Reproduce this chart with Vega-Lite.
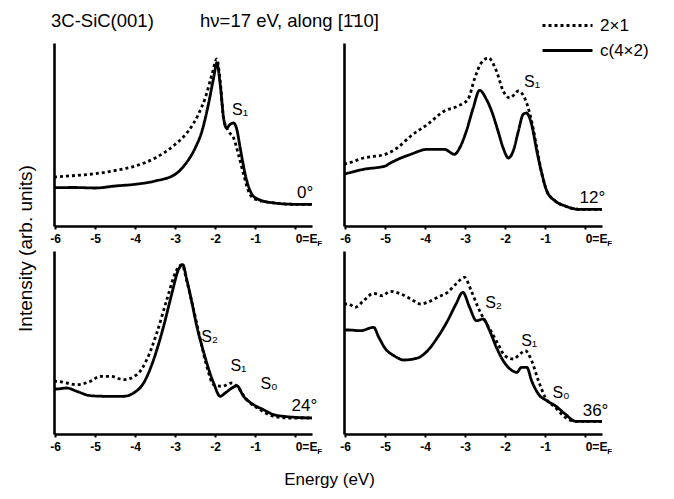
{
  "$schema": "https://vega.github.io/schema/vega-lite/v6.json",
  "padding": {"left": 16, "top": 11, "right": 5, "bottom": 5},
  "bounds": "flush",
  "columns": 2,
  "spacing": {"row": 25, "column": 32},
  "config": {
    "font": "Liberation Sans",
    "view": {"stroke": null},
    "axis": {"grid": false, "domainColor": "black", "tickColor": "black", "labelColor": "black", "titleColor": "black", "titleFont": "Liberation Sans", "labelFont": "Liberation Sans"},
    "axisX": {"domainWidth": 2.6, "tickWidth": 2, "tickSize": 3, "labelFontSize": 12, "labelFontWeight": "bold", "labelPadding": 4, "values": [-6, -5.5, -5, -4.5, -4, -3.5, -3, -2.5, -2, -1.5, -1, -0.5, 0], "labelExpr": "datum.value == 0 ? '0=E' : (datum.value % 1 == 0 ? '-' + abs(datum.value) : '')", "labelAlign": {"condition": {"test": "datum.value == 0", "value": "left"}, "value": "center"}, "labelOverlap": false, "labelFlush": false, "title": null},
    "axisY": {"domainWidth": 2.6, "ticks": false, "labels": false, "title": null},
    "legend": {"orient": "none", "legendX": 502, "legendY": -29, "title": null, "symbolType": "M-2.5,0H2.5", "symbolSize": 400, "symbolStrokeWidth": 2.8, "symbolStrokeColor": "black", "symbolFillColor": "transparent", "labelFontSize": 17, "labelFont": "Liberation Sans", "labelColor": "black", "labelOffset": 21, "rowPadding": 5, "padding": 0}
  },
  "datasets": {
    "spectra": [
      {"p":"a","s":"c(4×2)","E":-6.03,"I":38.3},{"p":"a","s":"c(4×2)","E":-5.5,"I":38.5},{"p":"a","s":"c(4×2)","E":-5,"I":38},{"p":"a","s":"c(4×2)","E":-4.5,"I":40},{"p":"a","s":"c(4×2)","E":-4,"I":41.7},{"p":"a","s":"c(4×2)","E":-3.5,"I":45},{"p":"a","s":"c(4×2)","E":-3,"I":51.7},{"p":"a","s":"c(4×2)","E":-2.75,"I":61.7},{"p":"a","s":"c(4×2)","E":-2.5,"I":78},{"p":"a","s":"c(4×2)","E":-2.33,"I":95},{"p":"a","s":"c(4×2)","E":-2.17,"I":121.7},{"p":"a","s":"c(4×2)","E":-2.04,"I":148},{"p":"a","s":"c(4×2)","E":-1.96,"I":163},{"p":"a","s":"c(4×2)","E":-1.875,"I":141.7},{"p":"a","s":"c(4×2)","E":-1.79,"I":108},{"p":"a","s":"c(4×2)","E":-1.72,"I":98},{"p":"a","s":"c(4×2)","E":-1.625,"I":101.7},{"p":"a","s":"c(4×2)","E":-1.54,"I":103},{"p":"a","s":"c(4×2)","E":-1.46,"I":96.7},{"p":"a","s":"c(4×2)","E":-1.375,"I":78},{"p":"a","s":"c(4×2)","E":-1.25,"I":51.7},{"p":"a","s":"c(4×2)","E":-1.125,"I":35},{"p":"a","s":"c(4×2)","E":-1,"I":28.3},{"p":"a","s":"c(4×2)","E":-0.58,"I":23.3},{"p":"a","s":"c(4×2)","E":0,"I":21.7},{"p":"a","s":"c(4×2)","E":0.42,"I":21.7},
      {"p":"a","s":"2×1","E":-6.03,"I":49},{"p":"a","s":"2×1","E":-5.5,"I":50.5},{"p":"a","s":"2×1","E":-5,"I":52.3},{"p":"a","s":"2×1","E":-4.5,"I":55.5},{"p":"a","s":"2×1","E":-4,"I":60},{"p":"a","s":"2×1","E":-3.5,"I":68},{"p":"a","s":"2×1","E":-3,"I":81.7},{"p":"a","s":"2×1","E":-2.67,"I":95},{"p":"a","s":"2×1","E":-2.42,"I":111.7},{"p":"a","s":"2×1","E":-2.25,"I":128},{"p":"a","s":"2×1","E":-2.08,"I":151.7},{"p":"a","s":"2×1","E":-1.96,"I":167},{"p":"a","s":"2×1","E":-1.875,"I":145},{"p":"a","s":"2×1","E":-1.79,"I":108},{"p":"a","s":"2×1","E":-1.67,"I":95},{"p":"a","s":"2×1","E":-1.54,"I":88},{"p":"a","s":"2×1","E":-1.42,"I":71.7},{"p":"a","s":"2×1","E":-1.29,"I":51.7},{"p":"a","s":"2×1","E":-1.17,"I":35},{"p":"a","s":"2×1","E":-1,"I":26.7},{"p":"a","s":"2×1","E":-0.58,"I":23.3},{"p":"a","s":"2×1","E":0,"I":21.7},{"p":"a","s":"2×1","E":0.42,"I":21.7},
      {"p":"b","s":"c(4×2)","E":-6.03,"I":52},{"p":"b","s":"c(4×2)","E":-5.92,"I":53},{"p":"b","s":"c(4×2)","E":-5.54,"I":56.7},{"p":"b","s":"c(4×2)","E":-5,"I":60},{"p":"b","s":"c(4×2)","E":-4.87,"I":63},{"p":"b","s":"c(4×2)","E":-4.36,"I":71.7},{"p":"b","s":"c(4×2)","E":-3.94,"I":76.7},{"p":"b","s":"c(4×2)","E":-3.52,"I":76.7},{"p":"b","s":"c(4×2)","E":-3.27,"I":71.7},{"p":"b","s":"c(4×2)","E":-3.14,"I":78},{"p":"b","s":"c(4×2)","E":-2.97,"I":95},{"p":"b","s":"c(4×2)","E":-2.8,"I":118},{"p":"b","s":"c(4×2)","E":-2.64,"I":135.7},{"p":"b","s":"c(4×2)","E":-2.47,"I":126.7},{"p":"b","s":"c(4×2)","E":-2.34,"I":115},{"p":"b","s":"c(4×2)","E":-2.18,"I":95},{"p":"b","s":"c(4×2)","E":-2.05,"I":78},{"p":"b","s":"c(4×2)","E":-1.92,"I":68},{"p":"b","s":"c(4×2)","E":-1.8,"I":75},{"p":"b","s":"c(4×2)","E":-1.67,"I":95},{"p":"b","s":"c(4×2)","E":-1.55,"I":111.7},{"p":"b","s":"c(4×2)","E":-1.47,"I":113},{"p":"b","s":"c(4×2)","E":-1.34,"I":101.7},{"p":"b","s":"c(4×2)","E":-1.21,"I":75},{"p":"b","s":"c(4×2)","E":-1.08,"I":51.7},{"p":"b","s":"c(4×2)","E":-0.96,"I":35},{"p":"b","s":"c(4×2)","E":-0.75,"I":25},{"p":"b","s":"c(4×2)","E":-0.5,"I":20},{"p":"b","s":"c(4×2)","E":-0.16,"I":16.7},{"p":"b","s":"c(4×2)","E":0.42,"I":16.7},
      {"p":"b","s":"2×1","E":-6.03,"I":62},{"p":"b","s":"2×1","E":-5.92,"I":63},{"p":"b","s":"2×1","E":-5.54,"I":68},{"p":"b","s":"2×1","E":-5,"I":71.7},{"p":"b","s":"2×1","E":-4.7,"I":78},{"p":"b","s":"2×1","E":-4.36,"I":90},{"p":"b","s":"2×1","E":-3.94,"I":101.7},{"p":"b","s":"2×1","E":-3.52,"I":115},{"p":"b","s":"2×1","E":-3.18,"I":120},{"p":"b","s":"2×1","E":-2.93,"I":126.7},{"p":"b","s":"2×1","E":-2.76,"I":148},{"p":"b","s":"2×1","E":-2.6,"I":163},{"p":"b","s":"2×1","E":-2.42,"I":168},{"p":"b","s":"2×1","E":-2.22,"I":155},{"p":"b","s":"2×1","E":-2.05,"I":135},{"p":"b","s":"2×1","E":-1.88,"I":128},{"p":"b","s":"2×1","E":-1.67,"I":135},{"p":"b","s":"2×1","E":-1.5,"I":126.7},{"p":"b","s":"2×1","E":-1.34,"I":105},{"p":"b","s":"2×1","E":-1.21,"I":78},{"p":"b","s":"2×1","E":-1.08,"I":51.7},{"p":"b","s":"2×1","E":-0.96,"I":35},{"p":"b","s":"2×1","E":-0.75,"I":25},{"p":"b","s":"2×1","E":-0.5,"I":20},{"p":"b","s":"2×1","E":-0.16,"I":16.7},{"p":"b","s":"2×1","E":0.42,"I":16.7},
      {"p":"c","s":"c(4×2)","E":-6.03,"I":45},{"p":"c","s":"c(4×2)","E":-5.96,"I":45},{"p":"c","s":"c(4×2)","E":-5.71,"I":46},{"p":"c","s":"c(4×2)","E":-5.46,"I":42.7},{"p":"c","s":"c(4×2)","E":-5.12,"I":38.3},{"p":"c","s":"c(4×2)","E":-4.71,"I":37.7},{"p":"c","s":"c(4×2)","E":-4.29,"I":37.7},{"p":"c","s":"c(4×2)","E":-4.04,"I":41},{"p":"c","s":"c(4×2)","E":-3.79,"I":51},{"p":"c","s":"c(4×2)","E":-3.54,"I":74.3},{"p":"c","s":"c(4×2)","E":-3.29,"I":107.7},{"p":"c","s":"c(4×2)","E":-3.08,"I":141},{"p":"c","s":"c(4×2)","E":-2.92,"I":164.3},{"p":"c","s":"c(4×2)","E":-2.81,"I":169.3},{"p":"c","s":"c(4×2)","E":-2.71,"I":154.3},{"p":"c","s":"c(4×2)","E":-2.58,"I":131},{"p":"c","s":"c(4×2)","E":-2.46,"I":107.7},{"p":"c","s":"c(4×2)","E":-2.33,"I":87.7},{"p":"c","s":"c(4×2)","E":-2.21,"I":71},{"p":"c","s":"c(4×2)","E":-2.04,"I":51},{"p":"c","s":"c(4×2)","E":-1.875,"I":37.7},{"p":"c","s":"c(4×2)","E":-1.75,"I":41},{"p":"c","s":"c(4×2)","E":-1.58,"I":46},{"p":"c","s":"c(4×2)","E":-1.46,"I":48.3},{"p":"c","s":"c(4×2)","E":-1.29,"I":37.7},{"p":"c","s":"c(4×2)","E":-1.04,"I":29.3},{"p":"c","s":"c(4×2)","E":-0.79,"I":24.3},{"p":"c","s":"c(4×2)","E":-0.54,"I":19.3},{"p":"c","s":"c(4×2)","E":-0.29,"I":17.7},{"p":"c","s":"c(4×2)","E":0.42,"I":16},
      {"p":"c","s":"2×1","E":-6.03,"I":52.7},{"p":"c","s":"2×1","E":-5.96,"I":52.7},{"p":"c","s":"2×1","E":-5.71,"I":51},{"p":"c","s":"2×1","E":-5.46,"I":49.3},{"p":"c","s":"2×1","E":-5.12,"I":52.7},{"p":"c","s":"2×1","E":-4.87,"I":57.7},{"p":"c","s":"2×1","E":-4.62,"I":57.7},{"p":"c","s":"2×1","E":-4.29,"I":54.3},{"p":"c","s":"2×1","E":-3.96,"I":59.3},{"p":"c","s":"2×1","E":-3.71,"I":74.3},{"p":"c","s":"2×1","E":-3.46,"I":101},{"p":"c","s":"2×1","E":-3.21,"I":134.3},{"p":"c","s":"2×1","E":-2.96,"I":164.3},{"p":"c","s":"2×1","E":-2.83,"I":169.3},{"p":"c","s":"2×1","E":-2.71,"I":152.7},{"p":"c","s":"2×1","E":-2.54,"I":124.3},{"p":"c","s":"2×1","E":-2.37,"I":94.3},{"p":"c","s":"2×1","E":-2.21,"I":67.7},{"p":"c","s":"2×1","E":-2.04,"I":49.3},{"p":"c","s":"2×1","E":-1.83,"I":47.7},{"p":"c","s":"2×1","E":-1.58,"I":51},{"p":"c","s":"2×1","E":-1.46,"I":47.7},{"p":"c","s":"2×1","E":-1.21,"I":34.3},{"p":"c","s":"2×1","E":-0.875,"I":24.3},{"p":"c","s":"2×1","E":-0.54,"I":17.7},{"p":"c","s":"2×1","E":-0.12,"I":16},{"p":"c","s":"2×1","E":0.42,"I":16},
      {"p":"d","s":"c(4×2)","E":-6.03,"I":104},{"p":"d","s":"c(4×2)","E":-5.92,"I":104},{"p":"d","s":"c(4×2)","E":-5.62,"I":103.3},{"p":"d","s":"c(4×2)","E":-5.29,"I":106.7},{"p":"d","s":"c(4×2)","E":-5.16,"I":96.7},{"p":"d","s":"c(4×2)","E":-4.99,"I":85},{"p":"d","s":"c(4×2)","E":-4.78,"I":78.3},{"p":"d","s":"c(4×2)","E":-4.53,"I":74},{"p":"d","s":"c(4×2)","E":-4.19,"I":76},{"p":"d","s":"c(4×2)","E":-3.94,"I":83.3},{"p":"d","s":"c(4×2)","E":-3.69,"I":96.7},{"p":"d","s":"c(4×2)","E":-3.44,"I":113.3},{"p":"d","s":"c(4×2)","E":-3.23,"I":130},{"p":"d","s":"c(4×2)","E":-3.06,"I":141.7},{"p":"d","s":"c(4×2)","E":-2.89,"I":126.7},{"p":"d","s":"c(4×2)","E":-2.72,"I":113.3},{"p":"d","s":"c(4×2)","E":-2.55,"I":115},{"p":"d","s":"c(4×2)","E":-2.39,"I":103.3},{"p":"d","s":"c(4×2)","E":-2.22,"I":86.7},{"p":"d","s":"c(4×2)","E":-2.05,"I":73.3},{"p":"d","s":"c(4×2)","E":-1.88,"I":65},{"p":"d","s":"c(4×2)","E":-1.71,"I":61.7},{"p":"d","s":"c(4×2)","E":-1.59,"I":66.7},{"p":"d","s":"c(4×2)","E":-1.46,"I":66.7},{"p":"d","s":"c(4×2)","E":-1.34,"I":53.3},{"p":"d","s":"c(4×2)","E":-1.17,"I":40},{"p":"d","s":"c(4×2)","E":-0.96,"I":33.3},{"p":"d","s":"c(4×2)","E":-0.75,"I":28.3},{"p":"d","s":"c(4×2)","E":-0.5,"I":20},{"p":"d","s":"c(4×2)","E":-0.24,"I":12.7},{"p":"d","s":"c(4×2)","E":0.42,"I":12.7},
      {"p":"d","s":"2×1","E":-6.03,"I":130},{"p":"d","s":"2×1","E":-5.92,"I":130},{"p":"d","s":"2×1","E":-5.75,"I":126.7},{"p":"d","s":"2×1","E":-5.54,"I":133.3},{"p":"d","s":"2×1","E":-5.29,"I":140.7},{"p":"d","s":"2×1","E":-5.08,"I":138.3},{"p":"d","s":"2×1","E":-4.87,"I":142.7},{"p":"d","s":"2×1","E":-4.61,"I":140},{"p":"d","s":"2×1","E":-4.36,"I":135},{"p":"d","s":"2×1","E":-4.11,"I":130},{"p":"d","s":"2×1","E":-3.94,"I":131.7},{"p":"d","s":"2×1","E":-3.69,"I":136.7},{"p":"d","s":"2×1","E":-3.44,"I":141.7},{"p":"d","s":"2×1","E":-3.23,"I":150},{"p":"d","s":"2×1","E":-3.02,"I":156.7},{"p":"d","s":"2×1","E":-2.85,"I":143.3},{"p":"d","s":"2×1","E":-2.68,"I":126.7},{"p":"d","s":"2×1","E":-2.51,"I":113.3},{"p":"d","s":"2×1","E":-2.34,"I":101.7},{"p":"d","s":"2×1","E":-2.18,"I":90},{"p":"d","s":"2×1","E":-2.01,"I":78.3},{"p":"d","s":"2×1","E":-1.8,"I":75},{"p":"d","s":"2×1","E":-1.63,"I":80},{"p":"d","s":"2×1","E":-1.5,"I":83.3},{"p":"d","s":"2×1","E":-1.34,"I":73.3},{"p":"d","s":"2×1","E":-1.17,"I":53.3},{"p":"d","s":"2×1","E":-1,"I":36.7},{"p":"d","s":"2×1","E":-0.75,"I":26.7},{"p":"d","s":"2×1","E":-0.5,"I":16.7},{"p":"d","s":"2×1","E":-0.24,"I":12.7},{"p":"d","s":"2×1","E":0.42,"I":12.7}
    ],
    "notes": [
      {"p":"a","k":"peak","E":-1.58,"I":111,"t":"S₁"},
      {"p":"a","k":"angle","E":0.45,"I":28,"t":"0°"},
      {"p":"b","k":"peak","E":-1.53,"I":139,"t":"S₁"},
      {"p":"b","k":"angle","E":0.5,"I":23.3,"t":"12°"},
      {"p":"c","k":"peak","E":-2.35,"I":92,"t":"S₂"},
      {"p":"c","k":"peak","E":-1.62,"I":62.7,"t":"S₁"},
      {"p":"c","k":"peak","E":-0.87,"I":45,"t":"S₀"},
      {"p":"c","k":"angle","E":0.55,"I":22.7,"t":"24°"},
      {"p":"d","k":"peak","E":-2.5,"I":126,"t":"S₂"},
      {"p":"d","k":"peak","E":-1.6,"I":87.7,"t":"S₁"},
      {"p":"d","k":"peak","E":-0.82,"I":36,"t":"S₀"},
      {"p":"d","k":"angle","E":0.58,"I":18.3,"t":"36°"}
    ]
  },
  "concat": [
    {
      "width": 258, "height": 183,
      "title": {"text": "3C-SiC(001)\u00a0\u00a0\u00a0\u00a0\u00a0\u00a0\u00a0\u00a0\u00a0hν=17 eV, along [1̄10]", "anchor": "start", "frame": "group", "fontSize": 18.5, "fontWeight": "normal", "font": "Liberation Sans", "color": "black", "baseline": "alphabetic", "offset": -2, "dx": -3},
      "layer": [
        {"data": {"name": "spectra"}, "transform": [{"filter": "datum.p == 'a'"}],
         "mark": {"type": "line", "interpolate": "monotone", "color": "black", "strokeWidth": 2.8},
         "encoding": {
           "x": {"field": "E", "type": "quantitative", "scale": {"domain": [-6.03, 0.42], "nice": false, "zero": false}},
           "y": {"field": "I", "type": "quantitative", "scale": {"domain": [0, 183], "nice": false}, "axis": {"title": "Intensity (arb. units)", "titleX": -29, "titleY": 205, "titleAngle": -90, "titleAlign": "center", "titleBaseline": "middle", "titleFontSize": 19, "titleFontWeight": "normal"}},
           "strokeDash": {"field": "s", "type": "nominal", "scale": {"domain": ["2×1", "c(4×2)"], "range": [[3, 3], [1, 0]]}}
         }},
        {"data": {"name": "notes"}, "transform": [{"filter": "datum.p == 'a' && datum.k == 'peak'"}],
         "mark": {"type": "text", "align": "left", "baseline": "alphabetic", "fontSize": 16, "color": "black"},
         "encoding": {"x": {"field": "E", "type": "quantitative"}, "y": {"field": "I", "type": "quantitative"}, "text": {"field": "t"}}},
        {"data": {"name": "notes"}, "transform": [{"filter": "datum.p == 'a' && datum.k == 'angle'"}],
         "mark": {"type": "text", "align": "right", "baseline": "alphabetic", "fontSize": 17, "color": "black"},
         "encoding": {"x": {"field": "E", "type": "quantitative"}, "y": {"field": "I", "type": "quantitative"}, "text": {"field": "t"}}},
        {"data": {"values": [{"E": 0, "I": 0}]},
         "mark": {"type": "text", "text": "F", "align": "left", "baseline": "top", "fontSize": 8, "fontWeight": "bold", "color": "black", "dx": 22, "dy": 14},
         "encoding": {"x": {"field": "E", "type": "quantitative"}, "y": {"field": "I", "type": "quantitative"}}}
      ]
    },
    {
      "width": 258, "height": 183,
      "layer": [
        {"data": {"name": "spectra"}, "transform": [{"filter": "datum.p == 'b'"}],
         "mark": {"type": "line", "interpolate": "monotone", "color": "black", "strokeWidth": 2.8},
         "encoding": {
           "x": {"field": "E", "type": "quantitative", "scale": {"domain": [-6.03, 0.42], "nice": false, "zero": false}},
           "y": {"field": "I", "type": "quantitative", "scale": {"domain": [0, 183], "nice": false}},
           "strokeDash": {"field": "s", "type": "nominal", "scale": {"domain": ["2×1", "c(4×2)"], "range": [[3, 3], [1, 0]]}}
         }},
        {"data": {"name": "notes"}, "transform": [{"filter": "datum.p == 'b' && datum.k == 'peak'"}],
         "mark": {"type": "text", "align": "left", "baseline": "alphabetic", "fontSize": 16, "color": "black"},
         "encoding": {"x": {"field": "E", "type": "quantitative"}, "y": {"field": "I", "type": "quantitative"}, "text": {"field": "t"}}},
        {"data": {"name": "notes"}, "transform": [{"filter": "datum.p == 'b' && datum.k == 'angle'"}],
         "mark": {"type": "text", "align": "right", "baseline": "alphabetic", "fontSize": 17, "color": "black"},
         "encoding": {"x": {"field": "E", "type": "quantitative"}, "y": {"field": "I", "type": "quantitative"}, "text": {"field": "t"}}},
        {"data": {"values": [{"E": 0, "I": 0}]},
         "mark": {"type": "text", "text": "F", "align": "left", "baseline": "top", "fontSize": 8, "fontWeight": "bold", "color": "black", "dx": 22, "dy": 14},
         "encoding": {"x": {"field": "E", "type": "quantitative"}, "y": {"field": "I", "type": "quantitative"}}}
      ]
    },
    {
      "width": 258, "height": 183,
      "layer": [
        {"data": {"name": "spectra"}, "transform": [{"filter": "datum.p == 'c'"}],
         "mark": {"type": "line", "interpolate": "monotone", "color": "black", "strokeWidth": 2.8},
         "encoding": {
           "x": {"field": "E", "type": "quantitative", "scale": {"domain": [-6.03, 0.42], "nice": false, "zero": false}, "axis": {"title": "Energy (eV)", "titleX": 275, "titleY": 45, "titleAlign": "center", "titleBaseline": "middle", "titleFontSize": 17, "titleFontWeight": "normal"}},
           "y": {"field": "I", "type": "quantitative", "scale": {"domain": [0, 183], "nice": false}},
           "strokeDash": {"field": "s", "type": "nominal", "scale": {"domain": ["2×1", "c(4×2)"], "range": [[3, 3], [1, 0]]}}
         }},
        {"data": {"name": "notes"}, "transform": [{"filter": "datum.p == 'c' && datum.k == 'peak'"}],
         "mark": {"type": "text", "align": "left", "baseline": "alphabetic", "fontSize": 16, "color": "black"},
         "encoding": {"x": {"field": "E", "type": "quantitative"}, "y": {"field": "I", "type": "quantitative"}, "text": {"field": "t"}}},
        {"data": {"name": "notes"}, "transform": [{"filter": "datum.p == 'c' && datum.k == 'angle'"}],
         "mark": {"type": "text", "align": "right", "baseline": "alphabetic", "fontSize": 17, "color": "black"},
         "encoding": {"x": {"field": "E", "type": "quantitative"}, "y": {"field": "I", "type": "quantitative"}, "text": {"field": "t"}}},
        {"data": {"values": [{"E": 0, "I": 0}]},
         "mark": {"type": "text", "text": "F", "align": "left", "baseline": "top", "fontSize": 8, "fontWeight": "bold", "color": "black", "dx": 22, "dy": 14},
         "encoding": {"x": {"field": "E", "type": "quantitative"}, "y": {"field": "I", "type": "quantitative"}}}
      ]
    },
    {
      "width": 258, "height": 183,
      "layer": [
        {"data": {"name": "spectra"}, "transform": [{"filter": "datum.p == 'd'"}],
         "mark": {"type": "line", "interpolate": "monotone", "color": "black", "strokeWidth": 2.8},
         "encoding": {
           "x": {"field": "E", "type": "quantitative", "scale": {"domain": [-6.03, 0.42], "nice": false, "zero": false}},
           "y": {"field": "I", "type": "quantitative", "scale": {"domain": [0, 183], "nice": false}},
           "strokeDash": {"field": "s", "type": "nominal", "scale": {"domain": ["2×1", "c(4×2)"], "range": [[3, 3], [1, 0]]}}
         }},
        {"data": {"name": "notes"}, "transform": [{"filter": "datum.p == 'd' && datum.k == 'peak'"}],
         "mark": {"type": "text", "align": "left", "baseline": "alphabetic", "fontSize": 16, "color": "black"},
         "encoding": {"x": {"field": "E", "type": "quantitative"}, "y": {"field": "I", "type": "quantitative"}, "text": {"field": "t"}}},
        {"data": {"name": "notes"}, "transform": [{"filter": "datum.p == 'd' && datum.k == 'angle'"}],
         "mark": {"type": "text", "align": "right", "baseline": "alphabetic", "fontSize": 17, "color": "black"},
         "encoding": {"x": {"field": "E", "type": "quantitative"}, "y": {"field": "I", "type": "quantitative"}, "text": {"field": "t"}}},
        {"data": {"values": [{"E": 0, "I": 0}]},
         "mark": {"type": "text", "text": "F", "align": "left", "baseline": "top", "fontSize": 8, "fontWeight": "bold", "color": "black", "dx": 22, "dy": 14},
         "encoding": {"x": {"field": "E", "type": "quantitative"}, "y": {"field": "I", "type": "quantitative"}}}
      ]
    }
  ]
}
